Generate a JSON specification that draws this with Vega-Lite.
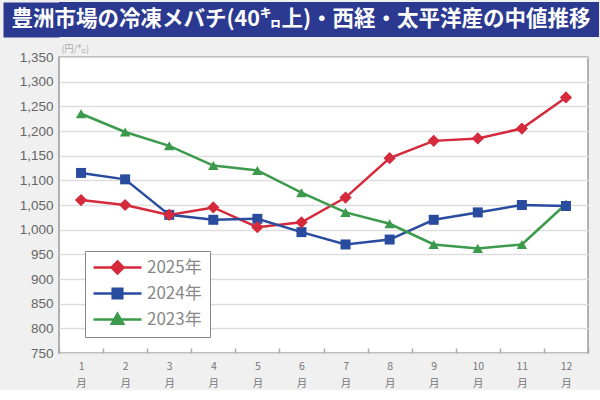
{
  "$schema": "https://vega.github.io/schema/vega-lite/v6.json",
  "background": "#f0f0f0",
  "padding": {"left": 2, "top": 2, "right": 2, "bottom": 0},
  "spacing": 6,
  "config": {"font": "Liberation Sans"},
  "datasets": {
    "prices": [
      {"year": "2025年", "month": 1, "price": 1060},
      {"year": "2025年", "month": 2, "price": 1050},
      {"year": "2025年", "month": 3, "price": 1030},
      {"year": "2025年", "month": 4, "price": 1045},
      {"year": "2025年", "month": 5, "price": 1005},
      {"year": "2025年", "month": 6, "price": 1015},
      {"year": "2025年", "month": 7, "price": 1065},
      {"year": "2025年", "month": 8, "price": 1145},
      {"year": "2025年", "month": 9, "price": 1180},
      {"year": "2025年", "month": 10, "price": 1185},
      {"year": "2025年", "month": 11, "price": 1205},
      {"year": "2025年", "month": 12, "price": 1268},
      {"year": "2024年", "month": 1, "price": 1115},
      {"year": "2024年", "month": 2, "price": 1102},
      {"year": "2024年", "month": 3, "price": 1030},
      {"year": "2024年", "month": 4, "price": 1020},
      {"year": "2024年", "month": 5, "price": 1022},
      {"year": "2024年", "month": 6, "price": 995},
      {"year": "2024年", "month": 7, "price": 970},
      {"year": "2024年", "month": 8, "price": 980},
      {"year": "2024年", "month": 9, "price": 1020},
      {"year": "2024年", "month": 10, "price": 1035},
      {"year": "2024年", "month": 11, "price": 1050},
      {"year": "2024年", "month": 12, "price": 1048},
      {"year": "2023年", "month": 1, "price": 1235},
      {"year": "2023年", "month": 2, "price": 1198},
      {"year": "2023年", "month": 3, "price": 1170},
      {"year": "2023年", "month": 4, "price": 1130},
      {"year": "2023年", "month": 5, "price": 1120},
      {"year": "2023年", "month": 6, "price": 1075},
      {"year": "2023年", "month": 7, "price": 1035},
      {"year": "2023年", "month": 8, "price": 1012},
      {"year": "2023年", "month": 9, "price": 970},
      {"year": "2023年", "month": 10, "price": 962},
      {"year": "2023年", "month": 11, "price": 970},
      {"year": "2023年", "month": 12, "price": 1052}
    ]
  },
  "vconcat": [
    {
      "width": 540,
      "height": 35,
      "view": {"fill": "#2b3990", "stroke": null},
      "data": {"values": [{"title": "豊洲市場の冷凍メバチ(40㌔上)・西経・太平洋産の中値推移"}]},
      "mark": {"type": "text", "color": "white", "font": "Noto Sans CJK JP", "fontWeight": "bold", "fontSize": 21.5, "align": "center", "baseline": "middle", "dx": -28},
      "encoding": {
        "text": {"field": "title", "type": "nominal"},
        "y": {
          "field": "title",
          "type": "nominal",
          "axis": {
            "title": null,
            "labels": false,
            "ticks": false,
            "grid": false,
            "domain": true,
            "domainColor": "#2b3990",
            "domainWidth": 56,
            "domainCap": "butt",
            "offset": 28,
            "minExtent": 0
          }
        }
      }
    },
    {
      "width": 529,
      "height": 296,
      "view": {"fill": "white", "stroke": "#999999", "strokeWidth": 1.5},
      "data": {"name": "prices"},
      "encoding": {
        "x": {
          "field": "month",
          "type": "ordinal",
          "bandPosition": 0.5,
          "scale": {"type": "band", "paddingInner": 0, "paddingOuter": 0},
          "axis": {
            "title": null,
            "domain": false,
            "grid": false,
            "labelAngle": 0,
            "labelExpr": "datum.label == '' ? '' : [datum.label, '月']",
            "labelFont": "Noto Sans CJK JP",
            "labelFontSize": 10.5,
            "labelColor": "#777777",
            "labelLineHeight": 17,
            "labelPadding": 13,
            "tickBand": "extent",
            "tickSize": -5,
            "tickColor": "#aaaaaa",
            "tickWidth": 1.5
          }
        },
        "y": {
          "field": "price",
          "type": "quantitative",
          "scale": {"domain": [750, 1350], "nice": false, "zero": false},
          "axis": {
            "values": [750, 800, 850, 900, 950, 1000, 1050, 1100, 1150, 1200, 1250, 1300, 1350],
            "format": ",.0f",
            "labelFontSize": 13.5,
            "labelColor": "#666666",
            "labelPadding": 6,
            "ticks": false,
            "domain": false,
            "gridColor": "#dedede",
            "gridWidth": 1.5,
            "minExtent": 56,
            "title": "(円/㌔)",
            "titleFont": "Noto Sans CJK JP",
            "titleAngle": 0,
            "titleAlign": "left",
            "titleBaseline": "bottom",
            "titleX": 2,
            "titleY": -4,
            "titleFontSize": 9,
            "titleFontWeight": "normal",
            "titleColor": "#aaaaaa"
          }
        },
        "color": {
          "field": "year",
          "type": "nominal",
          "scale": {"domain": ["2025年", "2024年", "2023年"], "range": ["#d42a3c", "#2a4c9e", "#3c9a4c"]},
          "legend": {
            "orient": "none",
            "legendX": 26,
            "legendY": 249,
            "title": null,
            "fillColor": "white",
            "strokeColor": "#888888",
            "padding": 8,
            "labelFont": "Noto Sans CJK JP",
            "labelFontSize": 17,
            "labelColor": "#888888",
            "symbolSize": 144,
            "symbolStrokeWidth": 2.5,
            "symbolOffset": 16,
            "labelOffset": 21,
            "rowPadding": 4,
            "encode": {
              "symbols": {
                "update": {
                  "shape": {"signal": "datum.value === '2025年' ? 'M-4,0L4,0M0,-1L1,0L0,1L-1,0Z' : datum.value === '2024年' ? 'M-4,0L4,0M-0.8,-0.8L0.8,-0.8L0.8,0.8L-0.8,0.8Z' : 'M-4,0L4,0M0,-0.95L0.95,0.7L-0.95,0.7Z'"},
                  "fill": {"signal": "scale('color', datum.value)"},
                  "stroke": {"signal": "scale('color', datum.value)"},
                  "opacity": {"value": 1}
                }
              }
            }
          }
        }
      },
      "layer": [
        {"mark": {"type": "line", "strokeWidth": 2.5}},
        {
          "transform": [{"filter": "datum.year === '2023年'"}],
          "mark": {"type": "point", "filled": true, "opacity": 1, "shape": "triangle-up", "size": 110}
        },
        {
          "transform": [{"filter": "datum.year === '2024年'"}],
          "mark": {"type": "point", "filled": true, "opacity": 1, "shape": "square", "size": 100}
        },
        {
          "transform": [{"filter": "datum.year === '2025年'"}],
          "mark": {"type": "point", "filled": true, "opacity": 1, "shape": "diamond", "size": 150}
        }
      ]
    }
  ]
}
